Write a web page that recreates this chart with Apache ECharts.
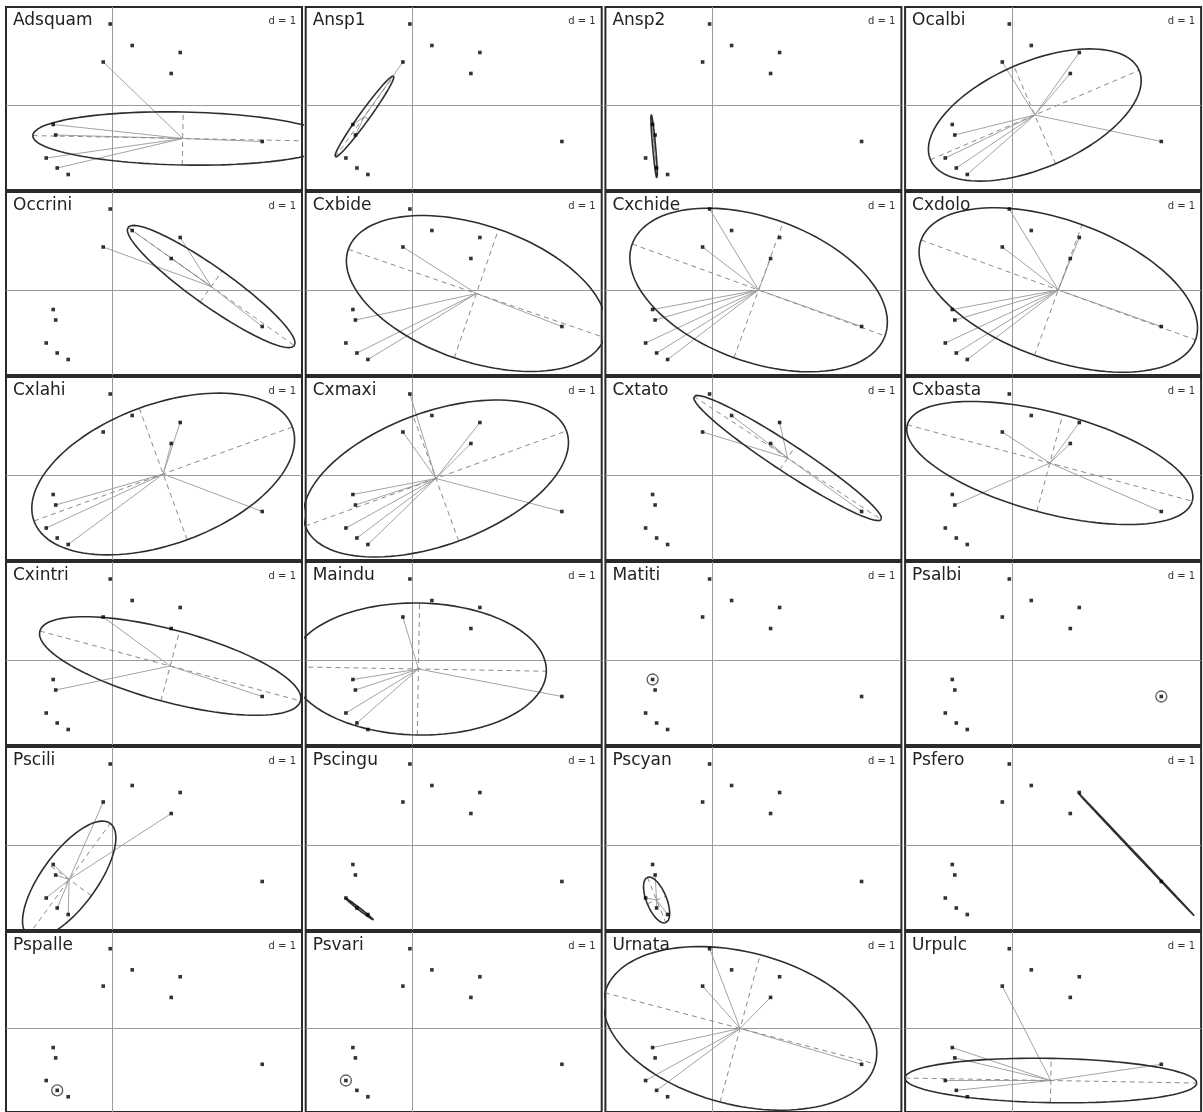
<!DOCTYPE html>
<html><head><meta charset="utf-8">
<script src="https://cdn.jsdelivr.net/npm/echarts@6/dist/echarts.min.js"></script>
<style>html,body{margin:0;padding:0;background:#fff}#c{width:1203px;height:1112px}</style>
</head><body><div id="c"></div><script>
// Site coordinates (same in every panel)
const siteX = [-0.05, 0.39, 1.35, 1.17, -0.19, -1.19, -1.14, -1.33, -1.11, -0.89, 2.99];
const siteY = [1.62, 1.19, 1.05, 0.63, 0.86, -0.39, -0.60, -1.06, -1.26, -1.39, -0.73];

const species = ['Adsquam','Ansp1','Ansp2','Ocalbi','Occrini','Cxbide','Cxchide','Cxdolo',
  'Cxlahi','Cxmaxi','Cxtato','Cxbasta','Cxintri','Maindu','Matiti','Psalbi',
  'Pscili','Pscingu','Pscyan','Psfero','Pspalle','Psvari','Urnata','Urpulc'];

// ellipse centre, semi-axes and orientation (degrees)
const centerX   = [1.40, -0.96, -1.16, 0.46, 1.97, 1.28, 0.93, 0.93, 1.01, 0.47, 1.51, 0.76, 1.15, 0.12, null, null, -0.87, -1.06, -1.11, 2.48, null, null, 0.56, 0.78];
const centerY   = [-0.67, -0.23, -0.83, -0.20, 0.07, -0.07, 0.00, 0.00, 0.02, -0.07, 0.34, 0.24, -0.12, -0.18, null, null, -0.69, -1.28, -1.10, -0.18, null, null, 0.00, -1.06];
const semiMajor = [3.00, 1.00, 0.64, 2.27, 2.04, 2.71, 2.69, 2.92, 2.75, 2.78, 2.24, 2.95, 2.70, 2.56, null, null, 1.39, 0.36, 0.49, 1.70, null, null, 2.80, 2.92];
const semiMinor = [0.53, 0.10, 0.03, 1.06, 0.38, 1.36, 1.44, 1.39, 1.40, 1.33, 0.28, 1.00, 0.72, 1.32, null, null, 0.55, 0.02, 0.20, 0.01, null, null, 1.55, 0.45];
const angleDeg  = [-1.1, 54.2, 95.1, 23.2, -35.4, -19, -20, -20, 20, 20, -33.3, -15, -15, -1, null, null, 53.8, -38, -67.9, -46.6, null, null, -15, -1];

// sites (1-based) linked to each species centre
const linkedSites = [
  [5,6,7,8,9,11], [5,6,7], [6,7,9], [3,4,5,7,8,9,10,11], [2,3,4,5,11],
  [5,7,9,10,11], [1,4,5,6,7,8,9,10,11], [1,3,4,5,6,7,8,9,10,11],
  [3,4,7,8,10,11], [1,3,4,5,6,7,8,9,10,11], [2,3,4,5,11], [3,4,5,7,11],
  [5,7,11], [5,6,7,8,9,11], [6], [11],
  [4,5,6,7,8,9,10], [8,9,10], [7,8,9,10], [3,11], [9], [8],
  [1,4,5,6,8,9,11], [5,6,7,8,9,11]
];

const dLabel = 'd = 1';

// ---- layout ----
const PANEL_W = 296, PANEL_H = 183, COL_STEP = 299.7, ROW_STEP = 185, LEFT0 = 6, TOP0 = 7;
const X_MIN = -2.134, X_MAX = 3.786, Y_MIN = -1.70, Y_MAX = 1.96;

const grids = [], xAxes = [], yAxes = [], series = [], graphics = [];
const sites = siteX.map((x, i) => [x, siteY[i]]);

species.forEach((name, i) => {
  const r = Math.floor(i / 4), c = i % 4;
  const left = LEFT0 + c * COL_STEP, top = TOP0 + r * ROW_STEP;
  grids.push({left, top, width: PANEL_W, height: PANEL_H, show: true,
    borderColor: '#2a2a2a', borderWidth: 2, backgroundColor: '#fff'});
  xAxes.push({type: 'value', gridIndex: i, min: X_MIN, max: X_MAX, show: false});
  yAxes.push({type: 'value', gridIndex: i, min: Y_MIN, max: Y_MAX, show: false});
  const ax = {xAxisIndex: i, yAxisIndex: i};

  // sites + origin axes
  series.push(Object.assign({type: 'scatter', data: sites, symbol: 'rect', symbolSize: 3.6,
    itemStyle: {color: '#000'}, z: 10, silent: true,
    markLine: {silent: true, symbol: ['none','none'], label: {show: false},
      lineStyle: {color: '#9a9a9a', type: 'solid', width: 1},
      data: [{xAxis: 0}, {yAxis: 0}]}}, ax));

  const links = linkedSites[i];
  if (links.length === 1) {
    const s = sites[links[0] - 1];
    series.push(Object.assign({type: 'scatter', data: [s], symbol: 'circle', symbolSize: 11,
      itemStyle: {color: 'rgba(0,0,0,0)', borderColor: '#333', borderWidth: 1.3}, z: 9, silent: true}, ax));
    return;
  }
  const cx = centerX[i], cy = centerY[i], a = semiMajor[i], b = semiMinor[i];
  const th = angleDeg[i] * Math.PI / 180, ct = Math.cos(th), st = Math.sin(th);
  links.forEach(k => {
    series.push(Object.assign({type: 'line', data: [[cx, cy], sites[k - 1]], showSymbol: false,
      symbol: 'none', lineStyle: {color: '#a3a3a3', width: 1}, z: 3, silent: true}, ax));
  });
  // dashed ellipse axes
  series.push(Object.assign({type: 'line', data: [[cx - a*ct, cy - a*st], [cx + a*ct, cy + a*st]],
    symbol: 'none', lineStyle: {color: '#8a8a8a', width: 1, type: [5, 4]}, z: 4, silent: true}, ax));
  series.push(Object.assign({type: 'line', data: [[cx + b*st, cy - b*ct], [cx - b*st, cy + b*ct]],
    symbol: 'none', lineStyle: {color: '#8a8a8a', width: 1, type: [5, 4]}, z: 4, silent: true}, ax));
  // ellipse outline
  const pts = [];
  for (let k = 0; k <= 120; k++) {
    const t = k / 120 * 2 * Math.PI;
    const u = a * Math.cos(t), v = b * Math.sin(t);
    pts.push([cx + u*ct - v*st, cy + u*st + v*ct]);
  }
  series.push(Object.assign({type: 'line', data: pts, symbol: 'none',
    lineStyle: {color: '#2e2e2e', width: 1.6}, z: 5, silent: true}, ax));
});

species.forEach((name, i) => {
  const r = Math.floor(i / 4), c = i % 4;
  const left = LEFT0 + c * COL_STEP, top = TOP0 + r * ROW_STEP;
  graphics.push({type: 'text', left: left + 7, top: top + 5, z: 100,
    style: {text: name, font: '17px "DejaVu Sans"', fill: '#222'}});
  graphics.push({type: 'text', x: left + PANEL_W - 6, y: top + 9, z: 100,
    style: {text: dLabel, font: '10px "DejaVu Sans"', fill: '#333', textAlign: 'right', textVerticalAlign: 'top'}});
});

const chart = echarts.init(document.getElementById('c'), null, {renderer: 'canvas'});
chart.setOption({animation: false, grid: grids, xAxis: xAxes, yAxis: yAxes, series, graphic: graphics});
</script></body></html>
